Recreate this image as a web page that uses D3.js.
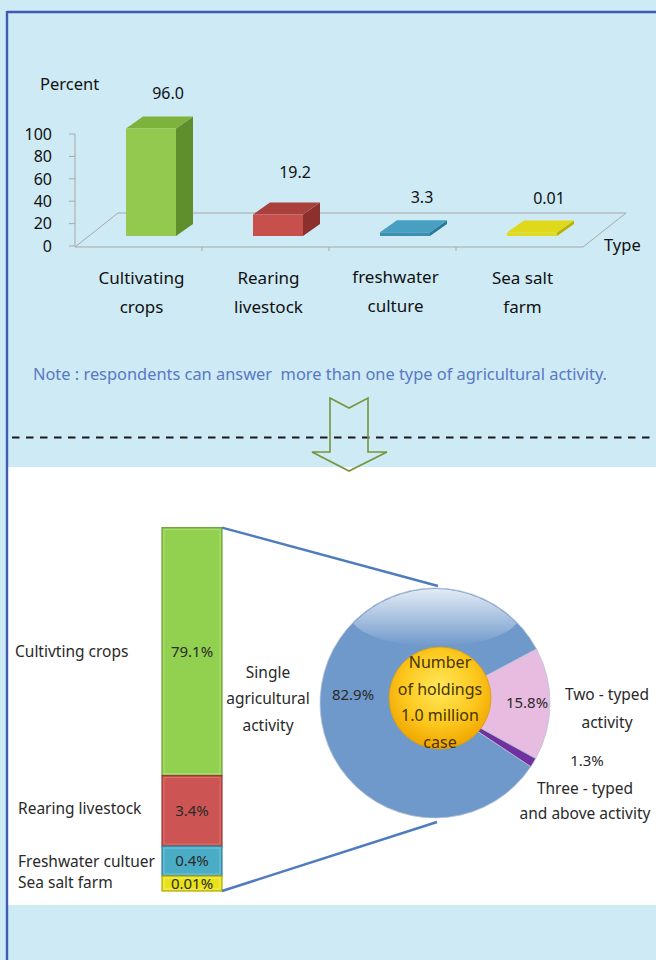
<!DOCTYPE html>
<html>
<head>
<meta charset="utf-8">
<script src="https://cdn.jsdelivr.net/npm/d3@7"></script>
<style>
  html, body { margin: 0; padding: 0; background: #cdeaf5; }
  svg { display: block; }
  text { font-family: "Noto Sans", "DejaVu Sans", sans-serif; }
</style>
</head>
<body>
<svg id="chart" width="656" height="960"></svg>
<script>
// ---------------- DATA ----------------
const topCategories = [["Cultivating", "crops"], ["Rearing", "livestock"], ["freshwater", "culture"], ["Sea salt", "farm"]];
const topValues = [96.0, 19.2, 3.3, 0.01];
const topValueLabels = ["96.0", "19.2", "3.3", "0.01"];
const yTicks = [0, 20, 40, 60, 80, 100];

const stackCategories = ["Cultivting crops", "Rearing livestock", "Freshwater cultuer", "Sea salt farm"];
const stackValues = [79.1, 3.4, 0.4, 0.01];
const stackValueLabels = ["79.1%", "3.4%", "0.4%", "0.01%"];

const pieCategories = [["Single", "agricultural", "activity"], ["Two - typed", "activity"], ["Three - typed", "and above activity"]];
const pieValues = [82.9, 15.8, 1.3];
const pieValueLabels = ["82.9%", "15.8%", "1.3%"];
const centerText = ["Number", "of holdings", "1.0 million", "case"];

const noteText = "Note : respondents can answer\u00a0 more than one type of agricultural activity.";

// ---------------- STYLES ----------------
const barColors = [
  {front: "#93c94f", top: "#7db33d", side: "#5f8f2d"},
  {front: "#c8504c", top: "#a9403c", side: "#8c302d"},
  {front: "#3c8fb1", top: "#479fc1", side: "#2d7896"},
  {front: "#e2da1c", top: "#e0d81a", side: "#b9b000"}
];
const stackColors = [
  {fill: "#92d050", dark: "#6e9e3a", light: "#b4e27e"},
  {fill: "#cc5452", dark: "#9c3a38", light: "#e07a77"},
  {fill: "#4bacc6", dark: "#347f96", light: "#7ccbe0"},
  {fill: "#e8e21a", dark: "#b0aa00", light: "#f6f27a"}
];
const pieColors = ["#7099cb", "#e8bbe0", "#7030a0"];

const svg = d3.select("#chart");
const defs = svg.append("defs");

// ---------------- BACKGROUND ----------------
svg.append("rect").attr("x", 0).attr("y", 0).attr("width", 656).attr("height", 960).attr("fill", "#cdeaf5");
svg.append("rect").attr("x", 8).attr("y", 467).attr("width", 648).attr("height", 438).attr("fill", "#ffffff");
// border
svg.append("line").attr("x1", 7).attr("x2", 656).attr("y1", 12).attr("y2", 12)
  .attr("stroke", "#3f5cb5").attr("stroke-width", 2.4);
svg.append("line").attr("x1", 7).attr("x2", 7).attr("y1", 11).attr("y2", 960)
  .attr("stroke", "#3f5cb5").attr("stroke-width", 2.4);

// ---------------- TOP 3D BAR CHART ----------------
const floorFront = 247, floorBack = 213, floorShift = 43;
const xBand = d3.scaleBand().domain(topCategories.map(d => d.join(" "))).range([75, 583]).padding(0);
const y = d3.scaleLinear().domain([0, 100]).range([246, 134]);
const barW = 50, dx = 17, dy = -12;
const barBase = 236;

// floor + axis
const g1 = svg.append("g");
const floorColor = "#a8a8a8";
g1.append("path")
  .attr("d", `M75,${floorFront} L583,${floorFront} L${583 + floorShift},${floorBack} L${75 + floorShift},${floorBack} Z`)
  .attr("fill", "none").attr("stroke", floorColor).attr("stroke-width", 1);
g1.append("line").attr("x1", 75).attr("x2", 75).attr("y1", y(100)).attr("y2", y(0))
  .attr("stroke", floorColor).attr("stroke-width", 1);
g1.selectAll(".ytick").data(yTicks).join("line")
  .attr("x1", 69).attr("x2", 75).attr("y1", d => y(d)).attr("y2", d => y(d))
  .attr("stroke", floorColor).attr("stroke-width", 1);
g1.selectAll(".xtick").data(xBand.domain().slice(1)).join("line")
  .attr("x1", d => xBand(d)).attr("x2", d => xBand(d)).attr("y1", floorFront).attr("y2", floorFront + 4)
  .attr("stroke", floorColor).attr("stroke-width", 1);
g1.selectAll(".ylab").data(yTicks).join("text")
  .attr("x", 52).attr("y", d => y(d)).attr("dy", "0.36em").attr("text-anchor", "end")
  .attr("font-size", 16).attr("fill", "#111").text(d => d);
g1.append("text").attr("x", 40).attr("y", 90).attr("font-size", 16.5).attr("fill", "#111").text("Percent");
g1.append("text").attr("x", 604).attr("y", 251).attr("font-size", 16.5).attr("fill", "#111").text("Type");

// bars
const bars = g1.selectAll(".bar3d").data(topValues).join("g");
bars.each(function (v, i) {
  const gb = d3.select(this);
  const cat = xBand.domain()[i];
  const cx = xBand(cat) + xBand.bandwidth() / 2 + 12.5;
  const x0 = cx - barW / 2, x1 = cx + barW / 2;
  const h = Math.max(3.5, (y(0) - y(v)));
  const yt = barBase - h, yb = barBase;
  const c = barColors[i];
  gb.append("path").attr("d", `M${x1},${yt} L${x1 + dx},${yt + dy} L${x1 + dx},${yb + dy} L${x1},${yb} Z`).attr("fill", c.side);
  gb.append("path").attr("d", `M${x0},${yt} L${x1},${yt} L${x1 + dx},${yt + dy} L${x0 + dx},${yt + dy} Z`).attr("fill", c.top);
  gb.append("rect").attr("x", x0).attr("y", yt).attr("width", barW).attr("height", h).attr("fill", c.front);
  const ly = Math.min(yt + dy - 17 - (v > 10 && v < 50 ? 7 : 0), 209);
  gb.append("text").attr("x", cx + dx).attr("y", ly).attr("text-anchor", "middle")
    .attr("font-size", 16).attr("fill", "#111").text(topValueLabels[i]);
});

// category labels
g1.selectAll(".cat").data(topCategories).join("text")
  .attr("text-anchor", "middle").attr("font-size", 17).attr("fill", "#111")
  .each(function (d, i) {
    const t = d3.select(this);
    const cx = xBand(xBand.domain()[i]) + xBand.bandwidth() / 2 + 3;
    const yOff = i === 2 ? -1 : 0;
    d.forEach((line, k) => {
      t.append("tspan").attr("x", cx).attr("y", 284 + yOff + k * 29).text(line);
    });
  });

// note
svg.append("text").attr("x", 33).attr("y", 380).attr("font-size", 15.5).attr("fill", "#5a78c4")
  .attr("textLength", 574).attr("lengthAdjust", "spacingAndGlyphs")
  .text(noteText);

// dashed separator
svg.append("line").attr("x1", 12).attr("x2", 656).attr("y1", 437.5).attr("y2", 437.5)
  .attr("stroke", "#1a1a1a").attr("stroke-width", 2).attr("stroke-dasharray", "7.5,6.5");

// arrow (hollow)
svg.append("path")
  .attr("d", "M330,398 L349,408 L368,398 L368,452 L387,452 L349,471 L312,452 L330,452 Z")
  .attr("fill", "none").attr("stroke", "#77943a").attr("stroke-width", 1.6).attr("stroke-linejoin", "miter");

// ---------------- STACKED BAR ----------------
const g2 = svg.append("g");
const stackX = 162, stackW = 60, stackBottom = 891;
const hScale = d3.scalePow().exponent(0.4).domain([0, d3.max(stackValues)]).range([0, 248]);
const segH = stackValues.map(v => Math.max(15, hScale(v)));
let segs = [];
let cur = stackBottom;
for (let i = stackValues.length - 1; i >= 0; i--) {
  segs[i] = {y0: cur - segH[i], y1: cur};
  cur -= segH[i];
}
const stackTop = segs[0].y0;

stackValues.forEach((v, i) => {
  const s = segs[i], c = stackColors[i];
  g2.append("rect").attr("x", stackX).attr("y", s.y0).attr("width", stackW).attr("height", s.y1 - s.y0)
    .attr("fill", c.fill).attr("stroke", c.dark).attr("stroke-width", 1.2);
  g2.append("rect").attr("x", stackX + 2).attr("y", s.y0 + 2).attr("width", stackW - 4).attr("height", Math.max(0, s.y1 - s.y0 - 4))
    .attr("fill", "none").attr("stroke", c.light).attr("stroke-width", 1).attr("opacity", 0.8);
  g2.append("text").attr("x", stackX + stackW / 2).attr("y", (s.y0 + s.y1) / 2).attr("dy", "0.36em")
    .attr("text-anchor", "middle").attr("font-size", 15).attr("fill", "#2a2a2a").text(stackValueLabels[i]);
  g2.append("text").attr("x", i === 0 ? 15 : 18).attr("y", (s.y0 + s.y1) / 2 + (i === 3 ? -1 : (i === 1 ? -2 : 0)))
    .attr("dy", "0.36em").attr("font-size", 15.5).attr("fill", "#2a2a2a").text(stackCategories[i]);
});

// ---------------- PIE ----------------
const pcx = 435, pcy = 703, pr = 115, innerR = 51;
const startA = 123.6 * Math.PI / 180;
const pie = d3.pie().sort(null).startAngle(startA).endAngle(startA + 2 * Math.PI);
const arcs = pie(pieValues);
const arcGen = d3.arc().innerRadius(0).outerRadius(pr);

// connector lines
g2.append("line").attr("x1", stackX + stackW).attr("y1", stackTop).attr("x2", pcx + 3).attr("y2", pcy - pr - 2)
  .attr("stroke", "#4f7cbd").attr("stroke-width", 2.5);
g2.append("line").attr("x1", stackX + stackW).attr("y1", stackBottom).attr("x2", pcx + 2).attr("y2", pcy + pr + 4)
  .attr("stroke", "#4f7cbd").attr("stroke-width", 2.5);

const gp = svg.append("g").attr("transform", `translate(${pcx},${pcy})`);
gp.selectAll(".slice").data(arcs).join("path")
  .attr("d", arcGen).attr("fill", (d, i) => pieColors[i])
  .attr("stroke", "#b8c4d4").attr("stroke-width", 0.8);

// gloss
const gloss = defs.append("linearGradient").attr("id", "gloss").attr("x1", 0).attr("y1", 0).attr("x2", 0).attr("y2", 1);
gloss.append("stop").attr("offset", "0%").attr("stop-color", "#ffffff").attr("stop-opacity", 0.85);
gloss.append("stop").attr("offset", "100%").attr("stop-color", "#ffffff").attr("stop-opacity", 0);
defs.append("clipPath").attr("id", "pieClip").append("circle").attr("cx", 0).attr("cy", 0).attr("r", pr - 1);
gp.append("ellipse").attr("cx", 0).attr("cy", -pr + 28).attr("rx", 84).attr("ry", 30)
  .attr("fill", "url(#gloss)").attr("clip-path", "url(#pieClip)");

// center circle
const cg = defs.append("radialGradient").attr("id", "centerGrad").attr("cx", "50%").attr("cy", "40%").attr("r", "60%");
cg.append("stop").attr("offset", "0%").attr("stop-color", "#ffe85a");
cg.append("stop").attr("offset", "60%").attr("stop-color", "#fcc81e");
cg.append("stop").attr("offset", "100%").attr("stop-color", "#f0a500");
gp.append("circle").attr("cx", 5).attr("cy", -5).attr("r", innerR)
  .attr("fill", "url(#centerGrad)").attr("stroke", "#d99a10").attr("stroke-width", 0.8);
gp.append("text").attr("text-anchor", "middle").attr("font-size", 16).attr("fill", "#4a3400")
  .selectAll("tspan").data(centerText).join("tspan")
  .attr("x", 5).attr("y", (d, i) => -35 + i * 26.5).text(d => d);

// pie value labels
const pieLabelPos = [[-82, -8], [92, 0], [152, 58]];
gp.selectAll(".pv").data(pieValueLabels).join("text")
  .attr("x", (d, i) => pieLabelPos[i][0]).attr("y", (d, i) => pieLabelPos[i][1]).attr("dy", "0.36em")
  .attr("text-anchor", "middle").attr("font-size", 15).attr("fill", "#2a2a2a").text(d => d);

// pie category labels
const pieCatPos = [[268, 672], [607, 694], [585, 788]];
pieCategories.forEach((lines, i) => {
  const t = svg.append("text").attr("text-anchor", "middle").attr("font-size", 15.5).attr("fill", "#2a2a2a");
  lines.forEach((ln, k) => {
    t.append("tspan").attr("x", pieCatPos[i][0]).attr("y", pieCatPos[i][1] + k * (i === 0 ? 26.5 : (i === 1 ? 28 : 25))).attr("dy", "0.36em").text(ln);
  });
});
</script>
</body>
</html>
